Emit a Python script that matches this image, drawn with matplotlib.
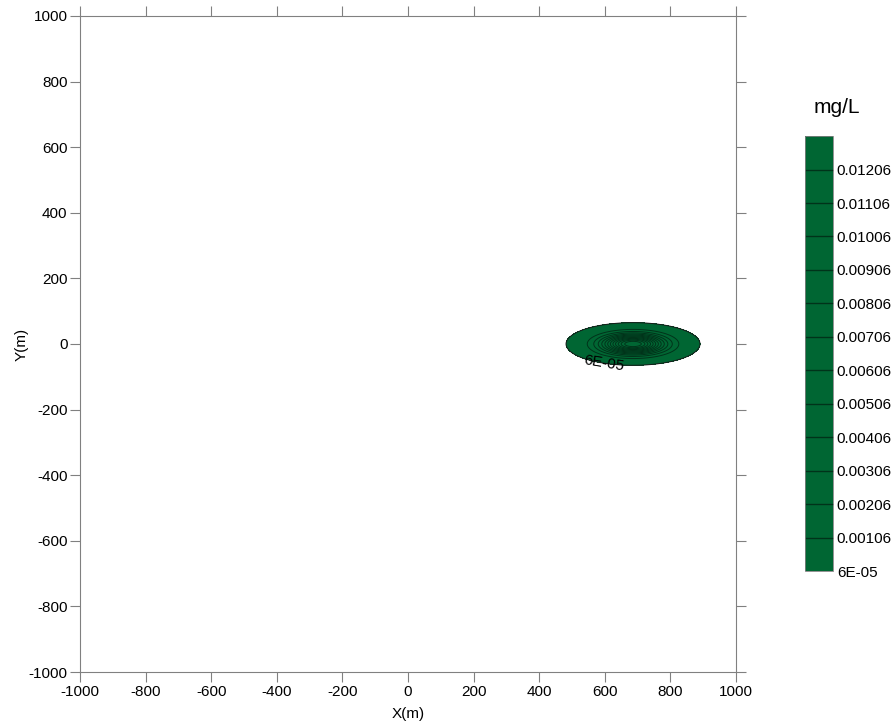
import numpy as np
import matplotlib.pyplot as plt
from matplotlib.colors import ListedColormap

plt.rcParams['font.family'] = ['Liberation Sans', 'DejaVu Sans']
plt.rcParams['font.size'] = 11
plt.rcParams['axes.unicode_minus'] = False

# plume: peak, centre and spread (m)
peak_conc = 0.0131
centre_x = 686.0
centre_y = 0.0
spread_x = 88.0
spread_y = 28.0

# contour levels in mg/L (as on the colour bar)
levels = [0.00006, 0.00106, 0.00206, 0.00306, 0.00406, 0.00506, 0.00606,
          0.00706, 0.00806, 0.00906, 0.01006, 0.01106, 0.01206, 0.01306]
level_labels = ['6E-05', '0.00106', '0.00206', '0.00306', '0.00406', '0.00506',
                '0.00606', '0.00706', '0.00806', '0.00906', '0.01006', '0.01106',
                '0.01206']
axis_ticks = [-1000, -800, -600, -400, -200, 0, 200, 400, 600, 800, 1000]

fill_col = '#006633'
line_col = '#00331a'
grey = '#808080'

xs = np.linspace(-1000, 1000, 1201)
ys = np.linspace(-1000, 1000, 1201)
X, Y = np.meshgrid(xs, ys)
C = peak_conc * np.exp(-((X - centre_x) / spread_x) ** 2 - ((Y - centre_y) / spread_y) ** 2)

fig = plt.figure(figsize=(8.94, 7.24), dpi=100)
ax = fig.add_axes([0.0895, 0.0718, 0.7338, 0.9062])

cmap = ListedColormap([fill_col])
cf = ax.contourf(X, Y, C, levels=levels, cmap=cmap)
ax.contour(X, Y, C, levels=levels[1:-1], colors=line_col, linewidths=0.7)
outer = ax.contour(X, Y, C, levels=[levels[0]], colors='#1a1a1a', linewidths=0.7)
ax.clabel(outer, fmt={levels[0]: '6E-05'}, inline=False, fontsize=11,
          colors='black', manual=[(598, -52)])

ax.set_xlim(-1000, 1000)
ax.set_ylim(-1000, 1000)
ax.set_xticks(axis_ticks)
ax.set_yticks(axis_ticks)
ax.tick_params(direction='out', length=7, width=0.8, color=grey,
               top=True, right=True, labeltop=False, labelright=False, pad=2)
for s in ax.spines.values():
    s.set_color(grey)
    s.set_linewidth(0.8)
ax.set_xlabel('X(m)', labelpad=6)
ax.set_ylabel('Y(m)', labelpad=0)

cax = fig.add_axes([0.9004, 0.2113, 0.031, 0.6007])
cb = fig.colorbar(cf, cax=cax, drawedges=True)
cb.outline.set_edgecolor(grey)
cb.outline.set_linewidth(0.6)
cb.dividers.set_color(line_col)
cb.dividers.set_linewidth(1.0)
cb.set_ticks(levels[:-1])
cb.set_ticklabels(level_labels)
cax.tick_params(length=0, pad=3)
fig.text(0.936, 0.851, 'mg/L', ha='center', va='center', fontsize=15)

fig.savefig('out.png', dpi=100)
